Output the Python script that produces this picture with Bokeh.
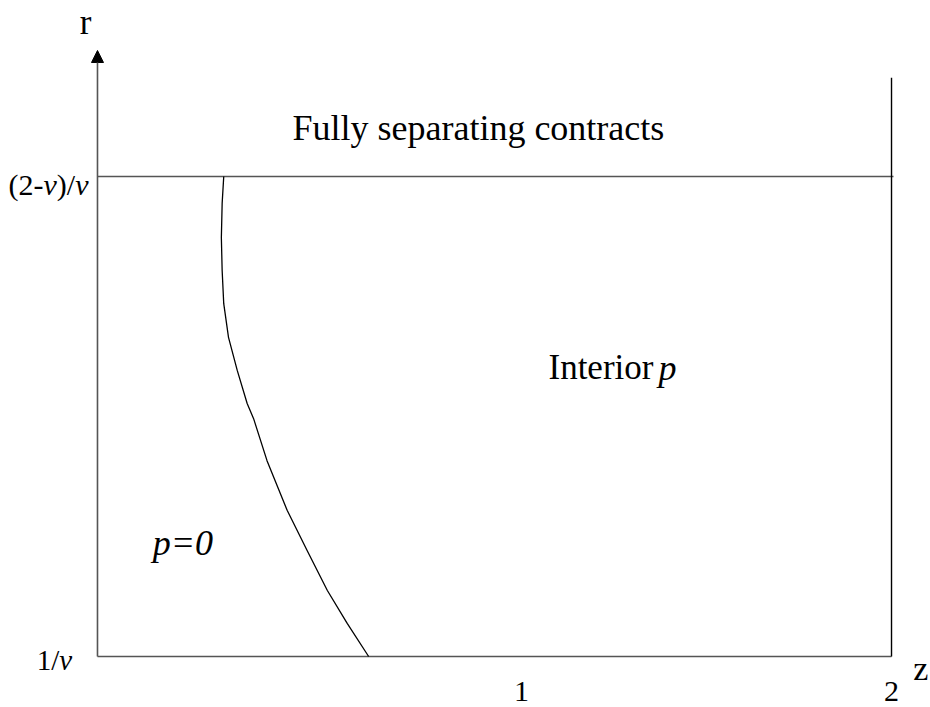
from bokeh.plotting import figure
from bokeh.models import Range1d, Arrow, NormalHead
from bokeh.core.properties import value
from bokeh.embed import file_html
from bokeh.resources import INLINE

# ---- data (z on horizontal axis, r normalised: 0 -> 1/v, 1 -> (2-v)/v) ----
z_max = 2.0
r_levels = [0.0, 1.0]
r_level_labels = ["1/v", "(2-v)/v"]
r_top = 1.2625          # arrow tip of r axis
r_right_top = 1.206     # top of the z = 2 boundary line
z_ticks = [1.068, 2.0]
z_tick_labels = ["1", "2"]

boundary_z = [0.318, 0.314, 0.312, 0.314, 0.318, 0.330, 0.352, 0.377, 0.393,
              0.427, 0.478, 0.528, 0.579, 0.629, 0.683]
boundary_r = [1.000, 0.944, 0.873, 0.804, 0.735, 0.665, 0.596, 0.527, 0.496,
              0.408, 0.304, 0.221, 0.1375, 0.069, 0.0]

FONT = value("Liberation Serif")

p = figure(width=930, height=707, output_backend="svg", toolbar_location=None,
           x_axis_type=None, y_axis_type=None, min_border=0,
           x_range=Range1d(-0.2443, 2.0982), y_range=Range1d(-0.10625, 1.3667))
p.grid.visible = False
p.outline_line_color = None
p.background_fill_color = "white"
p.border_fill_color = "white"

AX = "#555555"
# x axis
p.line([0, z_max], [r_levels[0], r_levels[0]], line_color=AX, line_width=1.6)
# upper boundary (r = (2-v)/v)
p.line([0, z_max + 0.005], [r_levels[1], r_levels[1]], line_color=AX, line_width=1.4)
# right boundary z = 2
p.line([z_max, z_max], [r_levels[0], r_right_top], line_color="black", line_width=1.4)
# r axis with arrow
p.add_layout(Arrow(end=NormalHead(size=12, fill_color="black", line_color="black"),
                   x_start=0, y_start=r_levels[0], x_end=0, y_end=r_top,
                   line_color=AX, line_width=1.6))
# p = 0 boundary curve
p.line(boundary_z, boundary_r, line_color="black", line_width=1.3,
       line_join="round")

def txt(x, y, s, size, style="normal", align="left", xoff=0):
    p.text(x=[x], y=[y], text=[s], text_font=FONT, text_font_size=size,
           text_font_style=style, text_align=align, text_baseline="alphabetic",
           text_color="black", x_offset=xoff)

# axis titles
txt(-0.030, 1.321, "r", "35px", align="center")
txt(2.055, -0.025, "z", "34px")

# region labels
txt(0.491, 1.102, "Fully separating contracts", "36px")
txt(1.136, 0.602, "Interior", "35px")
txt(1.413, 0.602, "p", "36px", style="italic")
txt(0.139, 0.2375, "p=0", "36px", style="italic")

# r level labels: (2-v)/v with italic v
fs = 30
txt(-0.0227, 0.983, "v", f"{fs}px", style="italic", align="right")
txt(-0.0227, 0.983, ")/", f"{fs}px", align="right", xoff=-0.444 * fs)
txt(-0.0227, 0.983, "v", f"{fs}px", style="italic", align="right", xoff=-(0.444 + 0.611) * fs)
txt(-0.0227, 0.983, "(2-", f"{fs}px", align="right", xoff=-(0.888 + 0.611) * fs)

# 1/v with italic v
fs2 = 29
txt(-0.153, -0.0083, "1/", f"{fs2}px")
txt(-0.153, -0.0083, "v", f"{fs2}px", style="italic", xoff=0.778 * fs2)

# z tick labels
txt(z_ticks[0], -0.072, z_tick_labels[0], "30px", align="center")
txt(z_ticks[1], -0.0735, z_tick_labels[1], "30px", align="center")

open("out.html", "w").write(file_html(p, INLINE))
